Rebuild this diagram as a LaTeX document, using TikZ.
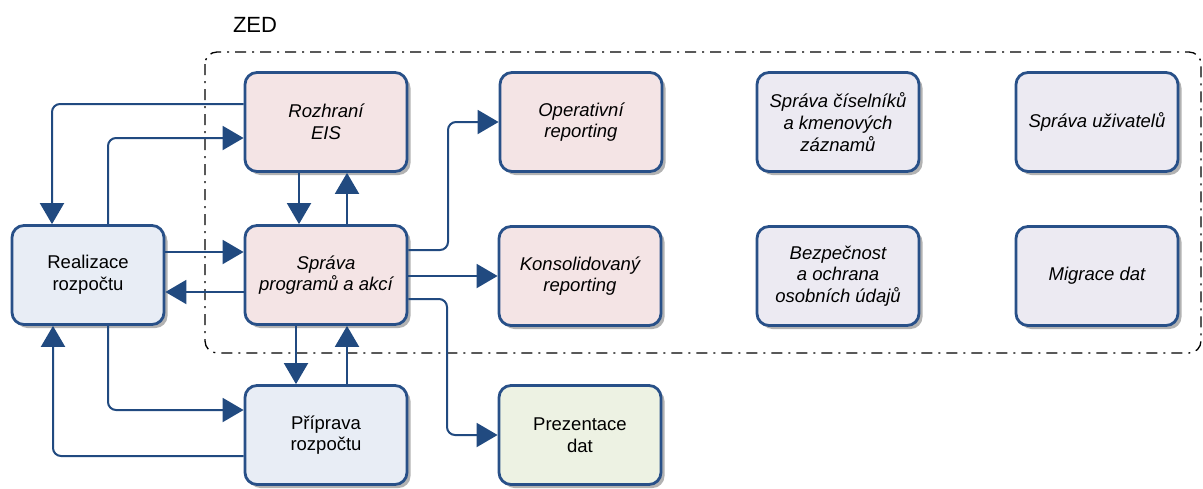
\documentclass[tikz,border=0pt]{standalone}
\usepackage{fontspec}
\setmainfont{Liberation Sans}
\usetikzlibrary{arrows.meta,shadows}
\definecolor{bord}{RGB}{40,80,136}
\definecolor{arr}{RGB}{33,74,128}
\definecolor{pinkc}{RGB}{244,228,229}
\definecolor{bluec}{RGB}{232,237,245}
\definecolor{greenc}{RGB}{237,242,227}
\definecolor{lavc}{RGB}{236,234,242}
\tikzset{
  box/.style={draw=bord, line width=2.8pt, rounded corners=12pt, align=center,
    minimum width=162pt, minimum height=99pt, inner sep=2pt,
    font=\fontsize{18.5}{21.7}\selectfont,
    drop shadow={shadow xshift=3.5pt, shadow yshift=-3.5pt, fill=black!30, opacity=1}},
  pbox/.style={box, fill=pinkc, font=\fontsize{18.5}{21.7}\selectfont\itshape},
  bbox/.style={box, fill=bluec},
  gbox/.style={box, fill=greenc},
  lbox/.style={box, fill=lavc, font=\fontsize{18.5}{21.7}\selectfont\itshape},
  conn/.style={draw=arr, line width=2pt, rounded corners=8pt,
    -{Triangle[length=21pt,width=24pt]}},
}
\begin{document}
\begin{tikzpicture}[x=1pt,y=-1pt]
\useasboundingbox (0,0) rectangle (1203,488);
% container
\draw[line width=1.3pt, dash pattern=on 11pt off 6pt on 2pt off 6pt, rounded corners=12pt]
  (205,52) rectangle (1201,353);
\node[font=\fontsize{22}{26}\selectfont] (zed) at (255,25) {ZED};
% boxes
\node[bbox, minimum width=152pt] (real) at (88,275) {Realizace\\rozpočtu};
\node[pbox] (eis) at (326,122) {Rozhraní\\EIS};
\node[pbox] (sprava) at (326,275) {Správa\\programů a akcí};
\node[bbox] (prip) at (326,435) {Příprava\\rozpočtu};
\node[pbox] (oper) at (581,122) {Operativní\\reporting};
\node[pbox] (kons) at (580,276) {Konsolidovaný\\reporting};
\node[gbox] (prez) at (580,435) {Prezentace\\dat};
\node[lbox] (cis) at (838,122) {Správa číselníků\\a kmenových\\záznamů};
\node[lbox] (uziv) at (1097,122) {Správa uživatelů};
\node[lbox] (bezp) at (838,276) {Bezpečnost\\a ochrana\\osobních údajů};
\node[lbox] (migr) at (1097,276) {Migrace dat};
% connectors
\draw[conn] (eis.west |- 0,104) -- (52,104) -- (real.north -| 52,0);
\draw[conn] (real.north -| 108,0) -- (108,138) -- (eis.west |- 0,138);
\draw[conn] (eis.south -| 299,0) -- (sprava.north -| 299,0);
\draw[conn] (sprava.north -| 347,0) -- (eis.south -| 347,0);
\draw[conn] (real.east |- 0,252) -- (sprava.west |- 0,252);
\draw[conn] (sprava.west |- 0,292) -- (real.east |- 0,292);
\draw[conn] (sprava.east |- 0,250) -- (448,250) -- (448,122) -- (oper.west);
\draw[conn] (sprava.east |- 0,276) -- (kons.west);
\draw[conn] (sprava.east |- 0,299) -- (447,299) -- (447,435) -- (prez.west);
\draw[conn] (real.south -| 108,0) -- (108,410) -- (prip.west |- 0,410);
\draw[conn] (prip.west |- 0,456) -- (53,456) -- (real.south -| 53,0);
\draw[conn] (sprava.south -| 296,0) -- (prip.north -| 296,0);
\draw[conn] (prip.north -| 347,0) -- (sprava.south -| 347,0);
\end{tikzpicture}
\end{document}
